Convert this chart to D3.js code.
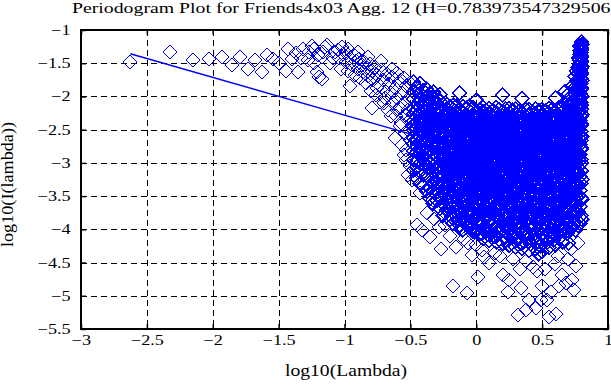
<!doctype html>
<html lang="en">
<head>
  <meta charset="utf-8">
  <title>Periodogram Plot for Friends4x03</title>
  <script src="https://d3js.org/d3.v7.min.js"></script>
  <style>
  body { margin: 0; background: #fff; }
  text { font-family: "Liberation Serif", "Times New Roman", serif; fill: #000; }
  .grid line { stroke: #000; stroke-width: 1; stroke-dasharray: 6,4; shape-rendering: crispEdges; }
  .pt { fill: none; stroke: #0000ff; stroke-width: 1; shape-rendering: crispEdges; }
  .pt.dense { stroke-width: 1.5; }
  </style>
</head>
<body>
<script>
// tick values of both axes
var xTicks = [-3, -2.5, -2, -1.5, -1, -0.5, 0, 0.5, 1];
var yTicks = [-5.5, -5, -4.5, -4, -3.5, -3, -2.5, -2, -1.5, -1];

// least squares fit line (slope = 1 - 2H)
var fitX = [-2.626, -0.45];
var fitY = [-1.357, -2.593];

// sparse low frequency points (log10 lambda, log10 I)
var tailPts = [[-2.626,-1.477],[-2.325,-1.33],[-2.15,-1.45],[-2.03,-1.44],[-1.93,-1.40],[-1.857,-1.53],
  [-1.79,-1.40],[-1.73,-1.58],[-1.68,-1.45],[-1.625,-1.63],[-1.59,-1.38],[-1.54,-1.43],[-1.5,-1.5],
  [-1.446,-1.61],[-1.43,-1.28],[-1.4,-1.43],[-1.365,-1.35],[-1.35,-1.63],[-1.315,-1.28],[-1.277,-1.45],
  [-1.244,-1.24],[-1.234,-1.28],[-1.23,-1.5],[-1.21,-1.63],[-1.19,-1.7],[-1.17,-1.73],[-1.16,-1.33],
  [-1.15,-1.25],[-1.13,-1.23],[-1.11,-1.5],[-1.07,-1.33],[-1.09,-1.42],[-1.2,-1.38],[-1.27,-1.33],[-1.33,-1.42]];

// the descending band between -1 and -0.5
var bandPts = [[-1.05,-1.3],[-1.04,-1.42],[-1.03,-1.58],[-1.01,-1.36],[-0.99,-1.48],[-0.985,-1.35],
  [-0.975,-1.62],[-0.96,-1.85],[-0.955,-1.42],[-0.94,-1.53],[-0.93,-1.38],[-0.92,-1.67],[-0.91,-1.47],
  [-0.9,-1.58],[-0.89,-1.44],[-0.88,-1.72],[-0.87,-1.52],[-0.86,-1.63],[-0.85,-1.48],[-0.84,-1.8],
  [-0.83,-1.57],[-0.82,-1.69],[-0.81,-1.51],[-0.8,-1.92],[-0.79,-2.18],[-0.79,-1.62],[-0.78,-1.75],
  [-0.77,-1.55],[-0.76,-1.98],[-0.75,-1.68],[-0.74,-1.83],[-0.73,-2.08],[-0.72,-1.6],[-0.71,-1.76],
  [-0.7,-1.9],[-0.69,-2.02],[-0.68,-1.66],[-0.67,-2.2],[-0.66,-1.82],[-0.65,-1.95],[-0.64,-1.71],
  [-0.63,-2.1],[-0.62,-2.63],[-0.62,-1.88],[-0.61,-2.3],[-0.6,-2.02],[-0.59,-1.78],[-0.58,-2.18],
  [-0.57,-1.75],[-0.57,-2.4],[-0.56,-2.73],[-0.56,-1.95],[-0.55,-2.1],[-0.54,-2.28],[-0.53,-2.8],
  [-0.53,-1.85],[-0.52,-2.5],[-0.51,-2.02],[-0.5,-2.65],[-0.5,-2.35],[-0.52,-2.2],[-0.54,-2.55],
  [-0.58,-2.45],[-0.6,-2.2],[-0.65,-2.3],[-0.7,-2.1],[-0.75,-1.88],[-0.55,-1.72],[-0.64,-1.58],
  [-0.72,-1.47],[-0.82,-1.4],[-0.9,-1.33],[-0.97,-1.28],[-1.02,-1.26],[-0.6,-1.64],[-0.5,-1.8],
  [-0.53,-2.95],[-0.55,-2.88]];

// dense high frequency cloud, one list of log10 I per log10 lambda column
var blobX = [-0.476,-0.451,-0.427,-0.402,-0.376,-0.351,-0.326,-0.299,-0.274,-0.251,-0.224,-0.199,
  -0.176,-0.149,-0.126,-0.101,-0.074,-0.051,-0.024,0.001,0.026,0.049,0.076,0.099,0.126,0.151,0.174,
  0.201,0.224,0.251,0.276,0.299,0.326,0.349,0.376,0.401,0.426,0.449,0.476,0.499,0.526,0.551,0.574,
  0.601,0.624,0.651,0.674,0.701,0.724,0.751,0.774,0.787,0.796,0.8];
var blobY = [
  [-1.78,-1.93,-2.04,-2.19,-2.26,-2.37,-2.45,-2.51,-2.62,-2.71,-2.82,-2.96,-3.11],
  [-1.87,-1.99,-2.12,-2.2,-2.31,-2.38,-2.48,-2.57,-2.64,-2.75,-2.84,-2.98,-3.06,-3.23],
  [-1.81,-1.96,-2.06,-2.17,-2.24,-2.35,-2.42,-2.51,-2.6,-2.68,-2.79,-2.87,-3.01,-3.13,-3.31],
  [-1.91,-2.01,-2.14,-2.21,-2.32,-2.4,-2.47,-2.54,-2.64,-2.71,-2.81,-2.91,-3.02,-3.18,-3.35],
  [-1.89,-2.0,-2.11,-2.21,-2.29,-2.36,-2.46,-2.52,-2.61,-2.69,-2.76,-2.87,-2.94,-3.07,-3.19,-3.43],
  [-1.95,-2.09,-2.16,-2.27,-2.34,-2.4,-2.5,-2.56,-2.66,-2.72,-2.82,-2.89,-3.0,-3.09,-3.25,-3.37,-3.53],
  [-1.93,-2.03,-2.16,-2.22,-2.32,-2.39,-2.45,-2.55,-2.61,-2.7,-2.76,-2.86,-2.93,-3.05,-3.14,-3.29,-3.44,-3.61],
  [-2.01,-2.1,-2.2,-2.26,-2.36,-2.41,-2.51,-2.57,-2.67,-2.73,-2.83,-2.89,-2.99,-3.06,-3.19,-3.29,-3.43,-3.57],
  [-1.97,-2.08,-2.19,-2.25,-2.35,-2.42,-2.47,-2.57,-2.62,-2.72,-2.78,-2.88,-2.95,-3.06,-3.13,-3.26,-3.37,-3.54,-3.69],
  [-2.13,-2.23,-2.29,-2.38,-2.44,-2.53,-2.59,-2.69,-2.74,-2.84,-2.91,-3.01,-3.08,-3.2,-3.3,-3.46,-3.61,-3.79],
  [-2.12,-2.19,-2.29,-2.35,-2.44,-2.5,-2.59,-2.65,-2.74,-2.8,-2.9,-2.96,-3.07,-3.15,-3.28,-3.39,-3.56,-3.71],
  [-2.15,-2.25,-2.31,-2.41,-2.46,-2.56,-2.61,-2.71,-2.77,-2.87,-2.93,-3.04,-3.11,-3.23,-3.33,-3.49,-3.63,-3.85],
  [-2.13,-2.2,-2.3,-2.36,-2.45,-2.51,-2.61,-2.66,-2.76,-2.82,-2.92,-2.99,-3.1,-3.18,-3.31,-3.42,-3.59,-3.75,-3.91],
  [-2.14,-2.25,-2.31,-2.4,-2.46,-2.55,-2.61,-2.71,-2.76,-2.86,-2.92,-3.03,-3.1,-3.22,-3.31,-3.46,-3.59,-3.8],
  [-1.95,-2.19,-2.29,-2.35,-2.44,-2.5,-2.6,-2.65,-2.75,-2.81,-2.91,-2.98,-3.09,-3.17,-3.3,-3.4,-3.56,-3.71,-3.94],
  [-2.15,-2.26,-2.32,-2.41,-2.47,-2.57,-2.62,-2.72,-2.78,-2.88,-2.94,-3.05,-3.12,-3.24,-3.34,-3.49,-3.62,-3.83,-4.01],
  [-2.18,-2.28,-2.34,-2.43,-2.49,-2.58,-2.64,-2.74,-2.79,-2.89,-2.96,-3.07,-3.14,-3.26,-3.35,-3.51,-3.65,-3.86],
  [-2.15,-2.22,-2.32,-2.38,-2.47,-2.53,-2.62,-2.68,-2.78,-2.84,-2.94,-3.0,-3.11,-3.19,-3.32,-3.43,-3.6,-3.76,-3.97],
  [-2.17,-2.27,-2.33,-2.42,-2.48,-2.58,-2.63,-2.73,-2.79,-2.89,-2.95,-3.06,-3.13,-3.25,-3.35,-3.5,-3.63,-3.84,-4.03],
  [-2.06,-2.24,-2.34,-2.4,-2.49,-2.55,-2.64,-2.7,-2.8,-2.85,-2.95,-3.02,-3.13,-3.21,-3.34,-3.45,-3.62,-3.78,-4.01],
  [-2.2,-2.3,-2.36,-2.45,-2.51,-2.6,-2.66,-2.76,-2.82,-2.92,-2.98,-3.09,-3.16,-3.28,-3.37,-3.52,-3.66,-3.87,-4.07],
  [-2.16,-2.23,-2.33,-2.39,-2.48,-2.54,-2.63,-2.69,-2.79,-2.85,-2.95,-3.01,-3.12,-3.2,-3.33,-3.44,-3.61,-3.77,-3.99,-4.14],
  [-2.21,-2.27,-2.37,-2.42,-2.52,-2.57,-2.67,-2.73,-2.82,-2.88,-2.98,-3.05,-3.16,-3.24,-3.37,-3.47,-3.64,-3.8,-4.03],
  [-2.18,-2.25,-2.35,-2.41,-2.5,-2.56,-2.65,-2.71,-2.81,-2.87,-2.97,-3.03,-3.14,-3.22,-3.35,-3.46,-3.63,-3.79,-4.02,-4.17],
  [-2.21,-2.31,-2.37,-2.46,-2.52,-2.61,-2.67,-2.77,-2.83,-2.93,-2.99,-3.1,-3.17,-3.29,-3.38,-3.53,-3.67,-3.88,-4.09],
  [-2.17,-2.24,-2.34,-2.4,-2.49,-2.55,-2.64,-2.7,-2.8,-2.86,-2.96,-3.02,-3.13,-3.21,-3.34,-3.45,-3.62,-3.78,-4.0,-4.19],
  [-2.2,-2.3,-2.36,-2.45,-2.51,-2.6,-2.66,-2.76,-2.81,-2.91,-2.97,-3.08,-3.15,-3.27,-3.36,-3.51,-3.65,-3.86,-4.06],
  [-1.98,-2.23,-2.33,-2.39,-2.48,-2.54,-2.63,-2.69,-2.79,-2.85,-2.95,-3.01,-3.12,-3.2,-3.33,-3.44,-3.61,-3.77,-3.99,-4.21],
  [-2.19,-2.29,-2.35,-2.44,-2.5,-2.59,-2.65,-2.75,-2.8,-2.9,-2.96,-3.07,-3.14,-3.26,-3.35,-3.5,-3.64,-3.85,-4.05],
  [-2.18,-2.25,-2.35,-2.41,-2.5,-2.56,-2.65,-2.71,-2.81,-2.87,-2.97,-3.03,-3.14,-3.22,-3.35,-3.46,-3.63,-3.79,-4.02,-4.24],
  [-2.21,-2.31,-2.37,-2.46,-2.52,-2.61,-2.67,-2.77,-2.83,-2.93,-2.99,-3.1,-3.17,-3.29,-3.38,-3.53,-3.67,-3.89,-4.11],
  [-2.19,-2.26,-2.36,-2.42,-2.51,-2.57,-2.66,-2.72,-2.82,-2.88,-2.98,-3.04,-3.15,-3.23,-3.36,-3.47,-3.64,-3.81,-4.05,-4.27],
  [-2.22,-2.32,-2.38,-2.47,-2.53,-2.62,-2.68,-2.78,-2.84,-2.94,-3.0,-3.11,-3.18,-3.3,-3.39,-3.54,-3.68,-3.9,-4.14],
  [-2.03,-2.24,-2.34,-2.4,-2.49,-2.55,-2.64,-2.7,-2.8,-2.86,-2.96,-3.02,-3.13,-3.21,-3.34,-3.45,-3.62,-3.79,-4.03,-4.29],
  [-2.2,-2.3,-2.36,-2.45,-2.51,-2.6,-2.66,-2.76,-2.82,-2.92,-2.98,-3.09,-3.16,-3.28,-3.37,-3.52,-3.66,-3.87,-4.09],
  [-2.2,-2.27,-2.37,-2.43,-2.52,-2.58,-2.67,-2.73,-2.83,-2.89,-2.99,-3.05,-3.16,-3.24,-3.37,-3.48,-3.65,-3.82,-4.06,-4.32],
  [-2.23,-2.33,-2.39,-2.48,-2.54,-2.63,-2.69,-2.79,-2.85,-2.95,-3.01,-3.12,-3.19,-3.31,-3.4,-3.55,-3.69,-3.91,-4.16],
  [-2.19,-2.26,-2.36,-2.42,-2.51,-2.57,-2.66,-2.72,-2.82,-2.88,-2.98,-3.04,-3.15,-3.23,-3.36,-3.47,-3.64,-3.81,-4.05,-4.29],
  [-2.21,-2.31,-2.37,-2.46,-2.52,-2.61,-2.67,-2.77,-2.83,-2.93,-2.99,-3.1,-3.17,-3.29,-3.38,-3.53,-3.67,-3.89,-4.12,-4.37],
  [-2.2,-2.27,-2.37,-2.43,-2.52,-2.58,-2.67,-2.73,-2.83,-2.89,-2.99,-3.05,-3.16,-3.24,-3.37,-3.48,-3.65,-3.82,-4.07,-4.33],
  [-2.22,-2.32,-2.38,-2.47,-2.53,-2.62,-2.68,-2.78,-2.84,-2.94,-3.0,-3.11,-3.18,-3.3,-3.39,-3.54,-3.68,-3.9,-4.15],
  [-2.18,-2.25,-2.35,-2.41,-2.5,-2.56,-2.65,-2.71,-2.81,-2.87,-2.97,-3.03,-3.14,-3.22,-3.35,-3.46,-3.63,-3.8,-4.04,-4.27],
  [-2.2,-2.3,-2.36,-2.45,-2.51,-2.6,-2.66,-2.76,-2.82,-2.92,-2.98,-3.09,-3.16,-3.28,-3.37,-3.52,-3.66,-3.87,-4.1],
  [-2.02,-2.23,-2.33,-2.39,-2.48,-2.54,-2.63,-2.69,-2.79,-2.85,-2.95,-3.01,-3.12,-3.2,-3.33,-3.44,-3.61,-3.78,-4.01,-4.23],
  [-2.18,-2.28,-2.34,-2.43,-2.49,-2.58,-2.64,-2.74,-2.8,-2.9,-2.96,-3.07,-3.14,-3.26,-3.35,-3.5,-3.64,-3.85,-4.07],
  [-2.17,-2.24,-2.34,-2.4,-2.49,-2.55,-2.64,-2.7,-2.8,-2.86,-2.96,-3.02,-3.13,-3.21,-3.34,-3.45,-3.62,-3.79,-4.01,-4.19],
  [-1.92,-2.11,-2.19,-2.29,-2.35,-2.44,-2.5,-2.59,-2.65,-2.75,-2.81,-2.91,-2.98,-3.09,-3.17,-3.3,-3.41,-3.59,-3.76,-3.99],
  [-1.96,-2.08,-2.16,-2.27,-2.33,-2.43,-2.48,-2.58,-2.63,-2.73,-2.79,-2.89,-2.95,-3.05,-3.12,-3.24,-3.33,-3.48,-3.61,-3.82,-4.03,-4.21],
  [-1.85,-1.99,-2.08,-2.2,-2.26,-2.36,-2.42,-2.51,-2.57,-2.67,-2.73,-2.83,-2.89,-2.99,-3.06,-3.18,-3.27,-3.42,-3.56,-3.77,-3.97],
  [-1.7,-1.86,-1.96,-2.09,-2.16,-2.27,-2.33,-2.43,-2.49,-2.59,-2.65,-2.75,-2.81,-2.91,-2.98,-3.09,-3.17,-3.31,-3.43,-3.61,-3.79,-4.01],
  [-1.42,-1.56,-1.66,-1.79,-1.87,-1.99,-2.06,-2.17,-2.24,-2.34,-2.4,-2.51,-2.57,-2.68,-2.75,-2.86,-2.94,-3.07,-3.17,-3.33,-3.49,-3.73,-3.94],
  [-1.24,-1.31,-1.37,-1.45,-1.52,-1.61,-1.68,-1.77,-1.85,-1.95,-2.03,-2.14,-2.23,-2.36,-2.46,-2.6,-2.72,-2.88,-3.03,-3.21,-3.42,-3.66,-3.91],
  [-1.18,-1.27,-1.34,-1.41,-1.49,-1.57,-1.64,-1.73,-1.81,-1.9,-1.99,-2.09,-2.19,-2.3,-2.41,-2.53,-2.66,-2.8,-2.95,-3.12,-3.31,-3.53,-3.79],
  [-1.22,-1.3,-1.39,-1.47,-1.55,-1.66,-1.76,-1.87,-2.0,-2.13,-2.27,-2.43,-2.6,-2.78,-3.0,-3.25,-3.55,-3.85]
];

// extra columns in the densest part of the cloud
var coreX = [-0.213,-0.187,-0.162,-0.138,-0.112,-0.088,-0.063,-0.037,-0.012,0.013,0.038,0.062,0.088,
  0.112,0.137,0.163,0.187,0.212,0.238,0.262,0.288,0.312,0.337,0.363,0.387,0.412,0.437,0.463,0.487,
  0.512,0.538,0.562,0.588,0.612,0.637,0.663,0.687,0.712,0.737,0.762];
var coreY = [
  [-2.38,-2.52,-2.66,-2.79,-2.93,-3.05,-3.18,-3.3,-3.44,-3.58,-3.72],
  [-2.33,-2.47,-2.6,-2.73,-2.86,-2.99,-3.12,-3.25,-3.38,-3.52,-3.67,-3.81],
  [-2.42,-2.57,-2.7,-2.84,-2.97,-3.1,-3.23,-3.36,-3.49,-3.63,-3.78],
  [-2.36,-2.49,-2.63,-2.76,-2.9,-3.02,-3.15,-3.28,-3.41,-3.55,-3.7,-3.86],
  [-2.4,-2.54,-2.67,-2.81,-2.94,-3.07,-3.2,-3.33,-3.46,-3.61,-3.77],
  [-2.35,-2.48,-2.62,-2.75,-2.88,-3.01,-3.14,-3.26,-3.4,-3.54,-3.69,-3.88],
  [-2.43,-2.58,-2.71,-2.83,-2.96,-3.09,-3.22,-3.35,-3.48,-3.62,-3.79,-3.96],
  [-2.37,-2.5,-2.64,-2.77,-2.91,-3.03,-3.16,-3.29,-3.42,-3.56,-3.71,-3.89],
  [-2.34,-2.46,-2.61,-2.74,-2.87,-3.0,-3.13,-3.27,-3.39,-3.53,-3.68,-3.84,-4.02],
  [-2.41,-2.55,-2.68,-2.82,-2.95,-3.08,-3.21,-3.34,-3.47,-3.6,-3.76,-3.93],
  [-2.36,-2.5,-2.63,-2.78,-2.9,-3.04,-3.17,-3.3,-3.43,-3.57,-3.73,-3.9,-4.06],
  [-2.44,-2.57,-2.72,-2.85,-2.98,-3.11,-3.24,-3.37,-3.5,-3.65,-3.81,-3.98],
  [-2.35,-2.49,-2.62,-2.76,-2.89,-3.02,-3.15,-3.28,-3.42,-3.55,-3.71,-3.87,-4.08],
  [-2.4,-2.53,-2.67,-2.8,-2.93,-3.06,-3.19,-3.32,-3.45,-3.59,-3.74,-3.92],
  [-2.38,-2.51,-2.65,-2.79,-2.92,-3.04,-3.18,-3.31,-3.44,-3.58,-3.73,-3.9,-4.1],
  [-2.43,-2.56,-2.7,-2.83,-2.96,-3.09,-3.22,-3.35,-3.49,-3.63,-3.79,-3.97],
  [-2.34,-2.48,-2.61,-2.75,-2.88,-3.01,-3.14,-3.27,-3.4,-3.54,-3.69,-3.86,-4.04],
  [-2.39,-2.53,-2.66,-2.8,-2.93,-3.06,-3.2,-3.33,-3.46,-3.6,-3.76,-3.94,-4.13],
  [-2.42,-2.55,-2.69,-2.82,-2.95,-3.08,-3.21,-3.34,-3.47,-3.62,-3.78,-3.96],
  [-2.36,-2.5,-2.63,-2.77,-2.9,-3.03,-3.16,-3.29,-3.43,-3.57,-3.72,-3.89,-4.09],
  [-2.41,-2.54,-2.68,-2.81,-2.94,-3.07,-3.2,-3.33,-3.46,-3.61,-3.77,-3.95,-4.16],
  [-2.37,-2.51,-2.64,-2.78,-2.91,-3.04,-3.17,-3.3,-3.44,-3.58,-3.74,-3.91],
  [-2.44,-2.57,-2.71,-2.84,-2.97,-3.1,-3.23,-3.36,-3.5,-3.64,-3.8,-3.99,-4.2],
  [-2.35,-2.49,-2.62,-2.76,-2.89,-3.02,-3.15,-3.28,-3.41,-3.56,-3.71,-3.88,-4.07],
  [-2.4,-2.54,-2.67,-2.8,-2.94,-3.07,-3.2,-3.33,-3.47,-3.61,-3.77,-3.95,-4.15],
  [-2.38,-2.52,-2.65,-2.79,-2.92,-3.05,-3.18,-3.31,-3.45,-3.59,-3.75,-3.93,-4.22],
  [-2.42,-2.56,-2.69,-2.83,-2.96,-3.09,-3.22,-3.35,-3.48,-3.63,-3.79,-3.97,-4.12],
  [-2.36,-2.49,-2.63,-2.76,-2.9,-3.03,-3.16,-3.29,-3.42,-3.56,-3.72,-3.9,-4.18],
  [-2.43,-2.57,-2.7,-2.84,-2.97,-3.1,-3.23,-3.36,-3.49,-3.64,-3.8,-3.98,-4.25],
  [-2.37,-2.5,-2.64,-2.77,-2.91,-3.04,-3.17,-3.3,-3.43,-3.57,-3.73,-3.91,-4.11],
  [-2.41,-2.55,-2.68,-2.82,-2.95,-3.08,-3.21,-3.34,-3.48,-3.62,-3.78,-3.96,-4.19],
  [-2.35,-2.48,-2.62,-2.75,-2.89,-3.02,-3.15,-3.28,-3.41,-3.55,-3.7,-3.88,-4.08],
  [-2.39,-2.53,-2.66,-2.8,-2.93,-3.06,-3.19,-3.32,-3.46,-3.6,-3.76,-3.94,-4.16],
  [-2.34,-2.47,-2.61,-2.74,-2.88,-3.0,-3.13,-3.26,-3.4,-3.54,-3.69,-3.86,-4.05],
  [-2.4,-2.54,-2.67,-2.81,-2.94,-3.07,-3.2,-3.33,-3.47,-3.61,-3.77,-3.95,-4.12],
  [-2.3,-2.44,-2.58,-2.72,-2.85,-2.98,-3.11,-3.24,-3.38,-3.52,-3.67,-3.84,-4.02],
  [-2.33,-2.47,-2.6,-2.74,-2.87,-3.0,-3.13,-3.26,-3.39,-3.53,-3.68,-3.85,-4.06],
  [-2.22,-2.37,-2.51,-2.65,-2.79,-2.92,-3.05,-3.18,-3.32,-3.46,-3.61,-3.78,-3.98],
  [-2.1,-2.26,-2.41,-2.56,-2.7,-2.84,-2.97,-3.1,-3.24,-3.38,-3.54,-3.72,-3.92],
  [-1.62,-1.76,-1.9,-2.03,-2.15,-2.28,-2.41,-2.54,-2.68,-2.82,-2.97,-3.13,-3.31,-3.52,-3.76]
];

// scattered low values under the cloud
var lowPts = [[-0.52,-3.18],[-0.49,-3.26],[-0.5,-3.05],[-0.43,-3.46],[-0.38,-3.41],[-0.33,-3.56],
  [-0.376,-3.76],[-0.45,-3.94],[-0.41,-4.01],[-0.354,-4.11],[-0.265,-4.3],[-0.24,-3.76],[-0.24,-3.94],
  [-0.14,-3.86],[-0.15,-4.26],[-0.12,-4.0],[-0.09,-4.14],[-0.03,-4.39],[0.04,-4.31],[0.01,-4.72],
  [-0.18,-4.86],[-0.07,-4.96],[0.0,-4.24],[0.14,-4.36],[0.2,-4.69],[0.25,-4.77],[0.24,-4.94],
  [0.34,-4.89],[0.315,-5.29],[0.38,-5.22],[0.4,-5.07],[0.45,-5.19],[0.49,-5.07],[0.5,-4.86],
  [0.555,-5.32],[0.605,-5.27],[0.54,-5.07],[0.57,-4.94],[0.63,-4.86],[0.68,-4.81],[0.73,-4.77],
  [0.745,-4.92],[0.38,-4.47],[0.43,-4.56],[0.28,-4.44],[0.46,-4.62],[0.65,-4.69],[0.76,-4.55],
  [0.7,-4.45],[0.6,-4.52],[0.52,-4.6],[0.33,-4.6],[0.1,-4.5],[0.06,-4.42],[-0.32,-3.85],[-0.28,-3.96],
  [-0.2,-4.1],[-0.06,-4.2],[0.18,-4.4],[0.62,-4.4],[0.77,-4.2],[0.72,-4.3]];

var titleText = "Periodogram Plot for Friends4x03 Agg. 12 (H=0.783973547329506)";
var xLabel = "log10(Lambda)";
var yLabel = "log10(I(lambda))";

// layout
var W = 611, H = 385;
var margin = {top: 30, right: 3, bottom: 56, left: 81};
var pw = W - margin.left - margin.right, ph = H - margin.top - margin.bottom;
var stretch = 1.3; // labels in the original are drawn wide

var svg = d3.select("body").append("svg").attr("width", W).attr("height", H);

var x = d3.scaleLinear().domain([-3, 1]).range([margin.left, margin.left + pw]);
var y = d3.scaleLinear().domain([-5.5, -1]).range([margin.top + ph, margin.top]);

// gather the points: sparse ones and the dense cloud
var sparse = tailPts.concat(bandPts, lowPts);
var dense = [];
blobX.forEach(function(bx, i) {
  blobY[i].forEach(function(by) { dense.push([bx, by]); });
});
coreX.forEach(function(cx, i) {
  coreY[i].forEach(function(cy) { dense.push([cx, cy]); });
});

// grid
var grid = svg.append("g").attr("class", "grid");
grid.selectAll(".gx").data(xTicks.slice(1, -1)).enter().append("line")
  .attr("x1", d => Math.round(x(d)) + 0.5).attr("x2", d => Math.round(x(d)) + 0.5)
  .attr("y1", y(-1)).attr("y2", y(-5.5));
grid.selectAll(".gy").data(yTicks.slice(1, -1)).enter().append("line")
  .attr("y1", d => Math.round(y(d)) + 0.5).attr("y2", d => Math.round(y(d)) + 0.5)
  .attr("x1", x(-3)).attr("x2", x(1));

// points
var diamond = "M0,-7L7,0L0,7L-7,0Z";
svg.append("g").selectAll("path").data(dense).enter().append("path")
  .attr("class", "pt dense")
  .attr("d", diamond)
  .attr("transform", d => "translate(" + x(d[0]) + "," + y(d[1]) + ")");
svg.append("g").selectAll("path").data(sparse).enter().append("path")
  .attr("class", "pt")
  .attr("d", diamond)
  .attr("transform", d => "translate(" + Math.round(x(d[0])) + "," + Math.round(y(d[1])) + ")");

// fit line
var fit = fitX.map((v, i) => [v, fitY[i]]);
svg.append("path").datum(fit)
  .attr("d", d3.line().x(d => x(d[0])).y(d => y(d[1])))
  .attr("fill", "none").attr("stroke", "#0000ff").attr("stroke-width", 1.5);

// axes with inner ticks
var fmt = d3.format("");
svg.append("g").attr("transform", "translate(0," + y(-5.5) + ")")
  .call(d3.axisBottom(x).tickValues(xTicks).tickSizeInner(-5).tickSizeOuter(0).tickPadding(6).tickFormat(fmt))
  .call(g => g.select(".domain").remove());
svg.append("g").attr("transform", "translate(0," + y(-1) + ")")
  .call(d3.axisTop(x).tickValues(xTicks).tickSizeInner(-5).tickSizeOuter(0).tickFormat(""))
  .call(g => g.select(".domain").remove());
svg.append("g").attr("transform", "translate(" + x(-3) + ",0)")
  .call(d3.axisLeft(y).tickValues(yTicks).tickSizeInner(-5).tickSizeOuter(0).tickPadding(8).tickFormat(fmt))
  .call(g => g.select(".domain").remove());
svg.append("g").attr("transform", "translate(" + x(1) + ",0)")
  .call(d3.axisRight(y).tickValues(yTicks).tickSizeInner(-5).tickSizeOuter(0).tickFormat(""))
  .call(g => g.select(".domain").remove());

svg.selectAll(".tick text").attr("font-size", 14).attr("font-family", "Liberation Serif")
  .attr("transform", "scale(" + stretch + ",1)");
svg.selectAll(".tick line").attr("stroke", "#000").attr("stroke-width", 1.5);

// frame
svg.append("rect")
  .attr("x", x(-3)).attr("y", y(-1))
  .attr("width", x(1) - x(-3)).attr("height", y(-5.5) - y(-1))
  .attr("fill", "none").attr("stroke", "#000").attr("stroke-width", 2);

// titles
svg.append("text").attr("x", 72).attr("y", 13).attr("font-size", 15)
  .attr("textLength", 545).attr("lengthAdjust", "spacingAndGlyphs").text(titleText);
svg.append("text").attr("x", 346).attr("y", 376).attr("text-anchor", "middle")
  .attr("font-size", 16).attr("textLength", 122).attr("lengthAdjust", "spacingAndGlyphs").text(xLabel);
svg.append("text").attr("transform", "translate(13,184.5) rotate(-90)")
  .attr("text-anchor", "middle").attr("font-size", 16)
  .attr("textLength", 125).attr("lengthAdjust", "spacingAndGlyphs").text(yLabel);
</script>
</body>
</html>
